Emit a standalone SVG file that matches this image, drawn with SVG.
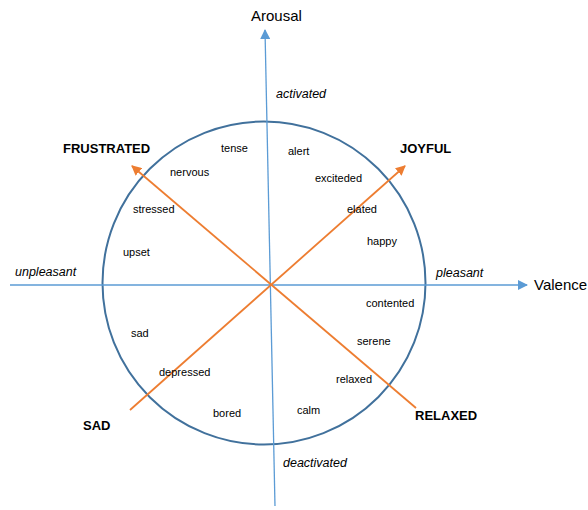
<svg xmlns="http://www.w3.org/2000/svg" width="588" height="510" viewBox="0 0 588 510">
<style>
text{font-family:"Liberation Sans",Arial,sans-serif;fill:#000}
.w{font-size:11px}
.b{font-size:13px;font-weight:bold}
.i{font-size:12.5px;font-style:italic}
.ax{font-size:15px}
.axis{stroke:#5B9BD5;stroke-width:1.3;fill:none}
.diag{stroke:#ED7D31;stroke-width:1.8;fill:none}
</style>
<defs>
<marker id="ab" viewBox="0 0 10 10" refX="9" refY="5" markerWidth="10" markerHeight="10" markerUnits="userSpaceOnUse" orient="auto"><path d="M0,0 L10,5 L0,10 Z" fill="#5B9BD5"/></marker>
<marker id="ao" viewBox="0 0 10 10" refX="9" refY="5" markerWidth="10" markerHeight="10" markerUnits="userSpaceOnUse" orient="auto"><path d="M0,0 L10,5 L0,10 Z" fill="#ED7D31"/></marker>
</defs>
<g id="circle"><circle cx="264" cy="283" r="161.5" fill="none" stroke="#41719C" stroke-width="2"/></g>
<g id="connectors">
<line class="axis" x1="275" y1="506" x2="265" y2="30" marker-end="url(#ab)"/>
<line class="axis" x1="10" y1="285" x2="527" y2="285" marker-end="url(#ab)"/>
<line class="diag" x1="416" y1="408" x2="132" y2="166" marker-end="url(#ao)"/>
<line class="diag" x1="130" y1="410" x2="405" y2="166" marker-end="url(#ao)"/>
</g>
<g id="axis-labels">
<text class="ax" x="251" y="21">Arousal</text>
<text class="ax" x="534" y="290">Valence</text>
<text class="i" x="276" y="98">activated</text>
<text class="i" x="283" y="467">deactivated</text>
<text class="i" x="15" y="276">unpleasant</text>
<text class="i" x="436" y="277">pleasant</text>
</g>
<g id="quadrant-labels">
<text class="b" x="63" y="153">FRUSTRATED</text>
<text class="b" x="400" y="153">JOYFUL</text>
<text class="b" x="83" y="430">SAD</text>
<text class="b" x="415" y="420">RELAXED</text>
</g>
<g id="emotions">
<text class="w" x="221" y="152">tense</text>
<text class="w" x="170" y="176">nervous</text>
<text class="w" x="133" y="213">stressed</text>
<text class="w" x="123" y="256">upset</text>
<text class="w" x="288" y="155">alert</text>
<text class="w" x="315" y="182">exciteded</text>
<text class="w" x="347" y="213">elated</text>
<text class="w" x="367" y="245">happy</text>
<text class="w" x="366" y="307">contented</text>
<text class="w" x="357" y="345">serene</text>
<text class="w" x="336" y="383">relaxed</text>
<text class="w" x="297" y="414">calm</text>
<text class="w" x="131" y="337">sad</text>
<text class="w" x="159" y="376">depressed</text>
<text class="w" x="213" y="417">bored</text>
</g>
</svg>
